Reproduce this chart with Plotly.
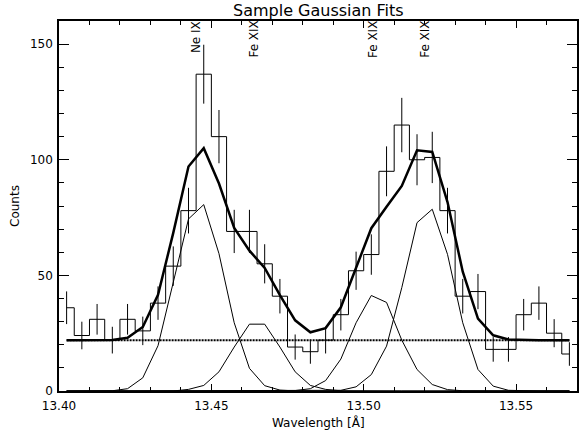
import plotly.graph_objects as go

# ---- data ----
wavelength = [13.4025 + 0.005 * i for i in range(34)]
counts = [36, 24, 31, 22, 31, 26, 38, 54, 78, 137,
          110, 69, 69, 55, 41, 19, 17, 22, 33, 52,
          59, 95, 115, 100, 101, 78, 41, 43, 18, 18,
          33, 38, 25, 16]
errors = [7.06, 5.97, 6.63, 5.77, 6.63, 6.17, 7.23, 8.53, 9.87, 12.74,
          11.52, 9.35, 9.35, 8.47, 7.46, 5.44, 5.21, 5.77, 6.81, 8.26,
          8.73, 10.79, 11.76, 11.04, 11.09, 9.87, 7.46, 7.61, 5.33, 5.33,
          6.81, 7.23, 6.07, 5.09]
background = [22.0] * 34
comp_ne9 = [0, 0, 0, 0.1, 1.0, 5.7, 19.6, 46.4, 74.4, 80.6,
            59.4, 29.5, 9.8, 2.3, 0.4, 0.05, 0, 0, 0, 0,
            0, 0, 0, 0, 0, 0, 0, 0, 0, 0,
            0, 0, 0, 0]
comp_fe19a = [0, 0, 0, 0, 0, 0, 0, 0, 0.7, 2.4,
              8.3, 19.0, 28.9, 28.9, 19.0, 8.3, 2.4, 0.7, 0.1, 0,
              0, 0, 0, 0, 0, 0, 0, 0, 0, 0,
              0, 0, 0, 0]
comp_fe19b = [0, 0, 0, 0, 0, 0, 0, 0, 0, 0,
              0, 0, 0, 0, 0.05, 0.2, 1.0, 4.5, 13.8, 29.5,
              41.3, 38.3, 22.0, 9.3, 2.8, 0.6, 0.1, 0, 0, 0,
              0, 0, 0, 0]
comp_fe19c = [0, 0, 0, 0, 0, 0, 0, 0, 0, 0,
              0, 0, 0, 0, 0, 0, 0, 0, 0.3, 1.8,
              7.1, 19.4, 44.7, 72.8, 78.6, 59.1, 29.5, 9.3, 2.1, 0.3,
              0, 0, 0, 0]
line_labels = ["Ne IX", "Fe XIX", "Fe XIX", "Fe XIX"]
line_label_pos = [13.4450, 13.4637, 13.5029, 13.5199]

total = [b + a + c + d + e for b, a, c, d, e in
         zip(background, comp_ne9, comp_fe19a, comp_fe19b, comp_fe19c)]

FONT = "DejaVu Sans"

fig = go.Figure()

# histogram
fig.add_trace(go.Scatter(x=wavelength, y=counts, mode="lines",
                         line=dict(shape="hvh", color="black", width=1),
                         showlegend=False, hoverinfo="skip"))
# error bars
fig.add_trace(go.Scatter(x=wavelength, y=counts, mode="markers",
                         marker=dict(color="rgba(0,0,0,0)", size=2),
                         error_y=dict(type="data", array=errors, visible=True,
                                      color="black", thickness=1, width=0),
                         showlegend=False, hoverinfo="skip"))
# components
for comp in (comp_ne9, comp_fe19a, comp_fe19b, comp_fe19c):
    fig.add_trace(go.Scatter(x=wavelength, y=comp, mode="lines",
                             line=dict(color="black", width=1),
                             showlegend=False, hoverinfo="skip"))
# background
fig.add_trace(go.Scatter(x=wavelength, y=background, mode="lines",
                         line=dict(color="black", width=2, dash="2px,1px"),
                         showlegend=False, hoverinfo="skip"))
# total model
fig.add_trace(go.Scatter(x=wavelength, y=total, mode="lines",
                         line=dict(color="black", width=2.5),
                         showlegend=False, hoverinfo="skip"))

annotations = []
for lab, pos in zip(line_labels, line_label_pos):
    annotations.append(dict(x=pos, y=1, xref="x", yref="paper", text=lab,
                            textangle=-90, xanchor="center", yanchor="top",
                            showarrow=False, borderpad=0, yshift=1,
                            font=dict(family=FONT, size=12, color="black")))
annotations.append(dict(x=0.5, y=1, xref="paper", yref="paper",
                        text="Sample Gaussian Fits", showarrow=False,
                        xanchor="center", yanchor="bottom", borderpad=0,
                        font=dict(family=FONT, size=16, color="black")))
annotations.append(dict(x=0.5, y=0, xref="paper", yref="paper",
                        text="Wavelength [Å]", showarrow=False,
                        xanchor="center", yanchor="middle", yshift=-31.5,
                        font=dict(family=FONT, size=12, color="black")))
annotations.append(dict(x=0, y=0.5, xref="paper", yref="paper",
                        text="Counts", showarrow=False, textangle=-90,
                        xanchor="center", yanchor="middle", xshift=-44,
                        font=dict(family=FONT, size=12, color="black")))

fig.update_layout(
    width=579, height=433,
    margin=dict(l=59, r=0, t=21, b=42),
    paper_bgcolor="white", plot_bgcolor="white",
    font=dict(family=FONT, size=12, color="black"),
    annotations=annotations,
    xaxis=dict(range=[13.40, 13.57], tick0=13.40, dtick=0.05,
               tickformat=".2f", ticks="inside", ticklen=7, tickwidth=1,
               tickcolor="black", mirror="ticks", showline=True,
               linecolor="black", linewidth=1.5, showgrid=False,
               zeroline=False, ticklabelstandoff=3,
               minor=dict(dtick=0.01, ticks="inside", ticklen=4,
                          tickcolor="black", tickwidth=1, showgrid=False),
               tickfont=dict(family=FONT, size=12, color="black")),
    yaxis=dict(range=[0, 160], tick0=0, dtick=50, ticks="inside",
               ticklen=10, tickwidth=1, tickcolor="black", mirror="ticks",
               showline=True, linecolor="black", linewidth=1.5,
               showgrid=False, zeroline=False, ticklabelstandoff=2,
               minor=dict(dtick=10, ticks="inside", ticklen=5,
                          tickcolor="black", tickwidth=1, showgrid=False),
               tickfont=dict(family=FONT, size=12, color="black")),
)

fig.write_html("out.html",
               config={"displayModeBar": False},
               post_script="document.body.style.margin='0px';"
                           "document.body.style.padding='0px';")
